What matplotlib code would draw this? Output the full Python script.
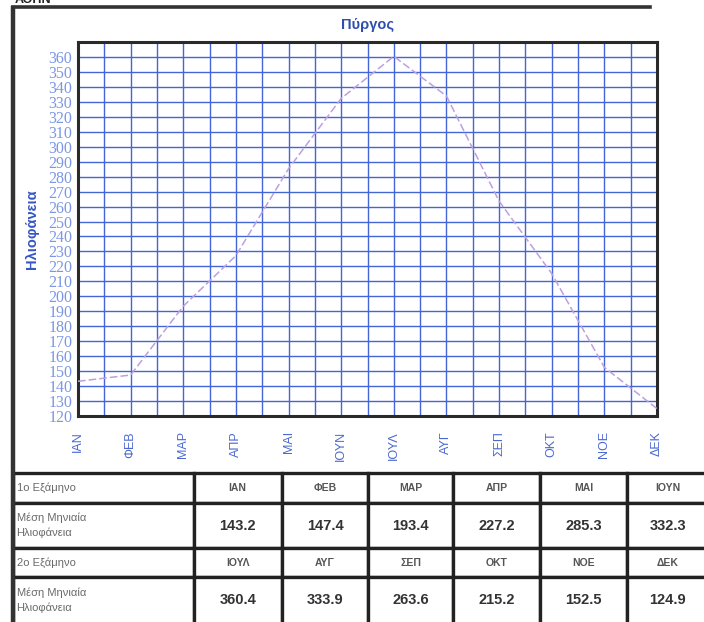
import numpy as np
import matplotlib.pyplot as plt
from matplotlib.ticker import MultipleLocator

months = ['ΙΑΝ', 'ΦΕΒ', 'ΜΑΡ', 'ΑΠΡ', 'ΜΑΙ', 'ΙΟΥΝ',
          'ΙΟΥΛ', 'ΑΥΓ', 'ΣΕΠ', 'ΟΚΤ', 'ΝΟΕ', 'ΔΕΚ']
sunshine = [143.2, 147.4, 193.4, 227.2, 285.3, 332.3,
            360.4, 333.9, 263.6, 215.2, 152.5, 124.9]
y_ticks = list(range(120, 370, 10))
title = 'Πύργος'
ylabel = 'Ηλιοφάνεια'
row_first = '1ο Εξάμηνο'
row_second = '2ο Εξάμηνο'
row_value = 'Μέση Μηνιαία\nΗλιοφάνεια'

W, H = 704, 622
fig = plt.figure(figsize=(W / 100, H / 100), dpi=100)
fig.patch.set_facecolor('white')

def px(l, t, r, b):
    return [l / W, 1 - b / H, (r - l) / W, (b - t) / H]

# main chart
ax = fig.add_axes(px(78, 42, 657, 416))
x = np.arange(len(months))
ax.plot(x, sunshine, color='#bd9fe2', lw=1.1, dashes=(5, 2), zorder=3)
ax.set_xlim(0, len(months) - 1)
ax.set_ylim(120, 370)
ax.set_xticks(x)
ax.set_xticklabels(months, rotation=90, fontsize=9, color='#4a68d0',
                   family='Liberation Sans')
ax.xaxis.set_minor_locator(MultipleLocator(0.5))
ax.set_yticks(y_ticks)
ax.set_yticklabels([str(v) for v in y_ticks], fontsize=11.5, color='#7a96e6',
                   family='Liberation Serif')
ax.tick_params(axis='x', which='both', length=0, pad=11)
ax.tick_params(axis='y', which='both', length=0, pad=4)
ax.grid(True, which='both', color='#4465d6', lw=1.0, zorder=1)
for s in ax.spines.values():
    s.set_color('#2a2a2a')
    s.set_linewidth(2.2)
ax.set_title(title, fontsize=10.5, fontweight='bold', color='#2f4fb0',
             family='Liberation Sans', pad=9)
ax.set_ylabel(ylabel, fontsize=10.5, fontweight='bold', color='#3656c4',
              family='Liberation Sans', labelpad=7)

# overlay for frame and table
ov = fig.add_axes([0, 0, 1, 1])
ov.set_xlim(0, W)
ov.set_ylim(H, 0)
ov.axis('off')
ov.plot([13, 13], [8, H], color='#333333', lw=3.2)
ov.plot([13, 650], [7, 7], color='#333333', lw=2.6)
fig.text(15 / W, 1.0, 'ΑΘΗΝ', fontsize=9, fontweight='bold', va='center',
         color='#222222', family='Liberation Sans')

cells = [[row_first] + months[:6],
         [row_value] + ['%.1f' % v for v in sunshine[:6]],
         [row_second] + months[6:],
         [row_value] + ['%.1f' % v for v in sunshine[6:]]]
col_w = [181, 88, 87, 85, 87, 87, 81]
row_h = [30, 45, 29, 47]
tab = ov.table(cellText=cells, colWidths=[c / sum(col_w) for c in col_w],
               bbox=[13 / W, -2 / H, 1 + 4 / W - 13 / W, (H + 2 - 473) / H],
               cellLoc='center')
tab.auto_set_font_size(False)
for (r, c), cell in tab.get_celld().items():
    cell.set_height(row_h[r])
    cell.set_edgecolor('#222222')
    cell.set_linewidth(2.4)
    t = cell.get_text()
    t.set_family('Liberation Sans')
    if c == 0:
        t.set_ha('left')
        cell._loc = 'left'
        cell.PAD = 0.02
        t.set_fontsize(8)
        t.set_color('#6a6a6a')
        t.set_linespacing(1.5)
    elif r % 2 == 0:
        t.set_fontsize(7.5)
        t.set_fontweight('bold')
        t.set_color('#555555')
    else:
        t.set_fontsize(10.5)
        t.set_fontweight('bold')
        t.set_color('#333333')

fig.savefig('out.png', dpi=100)
